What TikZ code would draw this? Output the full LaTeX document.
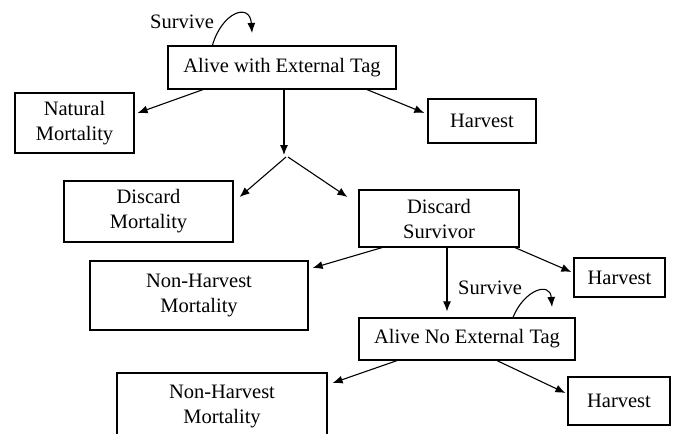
\documentclass[tikz,border=0pt]{standalone}
\usepackage{fontspec}
\setmainfont{Liberation Serif}
\usetikzlibrary{arrows.meta}
\begin{document}
\begin{tikzpicture}[x=1pt,y=-1pt,
  box/.style={draw, line width=1.2pt, inner sep=0pt, align=center, font=\fontsize{20.5}{25}\selectfont},
  txt/.style={inner sep=0pt, align=center, font=\fontsize{20.5}{25}\selectfont},
  arr/.style={line width=1.1pt, -{Latex[length=10pt,width=8pt]}}]
\useasboundingbox (0,0) rectangle (678,434);
\fill[white] (0,0) rectangle (678,434);
% boxes
\node[box, minimum width=228pt, minimum height=43pt] (a1) at (282,67.5) {Alive with External Tag};
\node[box, minimum width=119pt, minimum height=60pt] (nat) at (74.5,123) {Natural\\Mortality};
\node[box, minimum width=108pt, minimum height=44pt] (h1) at (482,121) {Harvest};
\node[box, minimum width=169pt, minimum height=61pt] (dm) at (148.5,211.5) {Discard\\Mortality};
\node[box, minimum width=160pt, minimum height=57pt] (ds) at (439,218.5) {Discard\\Survivor};
\node[box, minimum width=218pt, minimum height=69pt] (nh1) at (199,295.5) {Non-Harvest\\Mortality};
\node[box, minimum width=91pt, minimum height=39pt] (h2) at (619.5,277.5) {Harvest};
\node[box, minimum width=216pt, minimum height=42pt] (a2) at (467,339) {Alive No External Tag};
\node[box, minimum width=210pt, minimum height=67pt] (nh2) at (222,406.5) {Non-Harvest\\Mortality};
\node[box, minimum width=102pt, minimum height=48pt] (h3) at (619,401) {Harvest};
% survive labels
\node[txt] (s1) at (182,22) {Survive};
\node[txt] (s2) at (490,288) {Survive};
% split point
\coordinate (sp) at (286,157);
% connectors
\draw[arr] ([xshift=-79pt]a1.south) -- ([xshift=3pt,yshift=10pt]nat.east);
\draw[arr] ([xshift=85pt]a1.south) -- ([xshift=-3pt,yshift=8pt]h1.west);
\draw[arr] ([xshift=2pt]a1.south) -- ([xshift=-2pt,yshift=2pt]sp);
\draw[arr] (sp) -- ([xshift=6pt,yshift=14.5pt]dm.east);
\draw[arr] ([xshift=2pt]sp) -- ([xshift=-11pt,yshift=21.5pt]ds.west);
\draw[arr] ([xshift=-57pt]ds.south) -- ([xshift=4pt,yshift=27.5pt]nh1.east);
\draw[arr] ([xshift=76pt]ds.south) -- ([xshift=-2pt,yshift=5.5pt]h2.west);
\draw[arr] ([xshift=8pt]ds.south) -- ([xshift=-20pt,yshift=6pt]a2.north);
\draw[arr] ([xshift=-70pt]a2.south) -- ([xshift=5pt,yshift=23.5pt]nh2.east);
\draw[arr] ([xshift=30pt]a2.south) -- ([xshift=-2pt,yshift=8pt]h3.west);
% loops
\coordinate (l1) at (252,33);
\coordinate (l2) at (552,307);
\draw[arr] ([xshift=45pt]a1.north west) .. controls (222,12) and (250,2) .. (l1);
\draw[arr] ([xshift=46pt]a2.north) .. controls (524,290) and (550,281) .. (l2);
\end{tikzpicture}
\end{document}
